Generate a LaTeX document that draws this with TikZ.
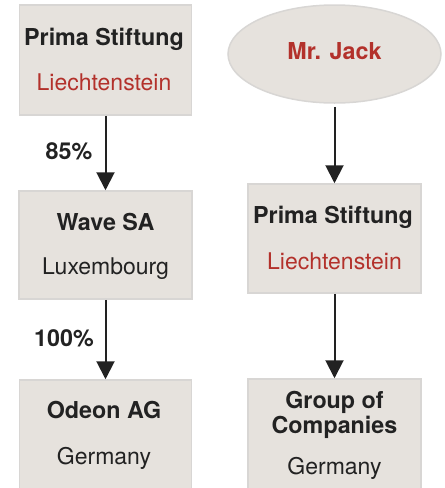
\documentclass[tikz,border=0pt]{standalone}
\usepackage{fontspec}
\setmainfont{TeX Gyre Heros}
\usetikzlibrary{arrows.meta,shapes.geometric}
\definecolor{boxfill}{HTML}{E6E2DD}
\definecolor{boxline}{HTML}{D8D6D4}
\definecolor{redtxt}{HTML}{B3312B}
\definecolor{darktxt}{HTML}{222222}
\tikzset{
  box/.style={draw=boxline, line width=1.5pt, fill=boxfill, rectangle, inner sep=0pt},
  oval/.style={draw=boxline, line width=1.5pt, fill=boxfill, ellipse, inner sep=0pt},
  title/.style={anchor=base, inner sep=0pt, text=darktxt, font=\fontsize{23.3}{26}\selectfont\bfseries},
  sub/.style={anchor=base, inner sep=0pt, text=darktxt, font=\fontsize{23}{26}\selectfont},
  subred/.style={sub, text=redtxt},
  pct/.style={anchor=base, inner sep=0pt, text=darktxt, font=\fontsize{23.3}{26}\selectfont\bfseries},
  arr/.style={line width=2pt, draw=darktxt, -{Triangle[width=18pt,length=18pt]}}
}
\begin{document}
\begin{tikzpicture}[x=1pt,y=-1pt]
\useasboundingbox (0,0) rectangle (445,488);
\begin{scope}
\clip (0,0) rectangle (445,488);
% left column
\node[box, minimum width=172pt, minimum height=110pt] (ps1) at (105.5,60) {};
\node[box, minimum width=173pt, minimum height=108pt] (wave) at (105.5,245) {};
\node[box, minimum width=172pt, minimum height=112pt] (odeon) at (105.5,436) {};
% right column
\node[oval, minimum width=213pt, minimum height=98pt] (jack) at (334.5,54) {};
\node[box, minimum width=173pt, minimum height=109pt] (ps2) at (334.5,238.5) {};
\node[box, minimum width=173pt, minimum height=112pt] (group) at (334.5,435) {};
\end{scope}
% texts
\node[title] (t1) at (104,45) {Prima Stiftung};
\node[subred] (t2) at (104,90) {Liechtenstein};
\node[title] (t3) at (105.5,230) {Wave SA};
\node[sub] (t4) at (105.5,274) {Luxembourg};
\node[title] (t5) at (104,418) {Odeon AG};
\node[sub] (t6) at (104,464) {Germany};
\node[title, text=redtxt] (t7) at (334.5,59) {Mr. Jack};
\node[title] (t8) at (333,223) {Prima Stiftung};
\node[subred] (t9) at (334.5,269) {Liechtenstein};
\node[title] (t10) at (334.5,408) {Group of};
\node[title] (t11) at (334.5,433) {Companies};
\node[sub] (t12) at (334.5,474) {Germany};
% percentages
\node[pct] (p1) at (69,159) {85\%};
\node[pct] (p2) at (64,346) {100\%};
% arrows
\draw[arr] (ps1.south) -- (wave.north);
\draw[arr] (wave.south) -- (odeon.north);
\draw[arr] (jack.south) ++(0,3) -- (ps2.north);
\draw[arr] (ps2.south) -- (group.north);
\end{tikzpicture}
\end{document}
